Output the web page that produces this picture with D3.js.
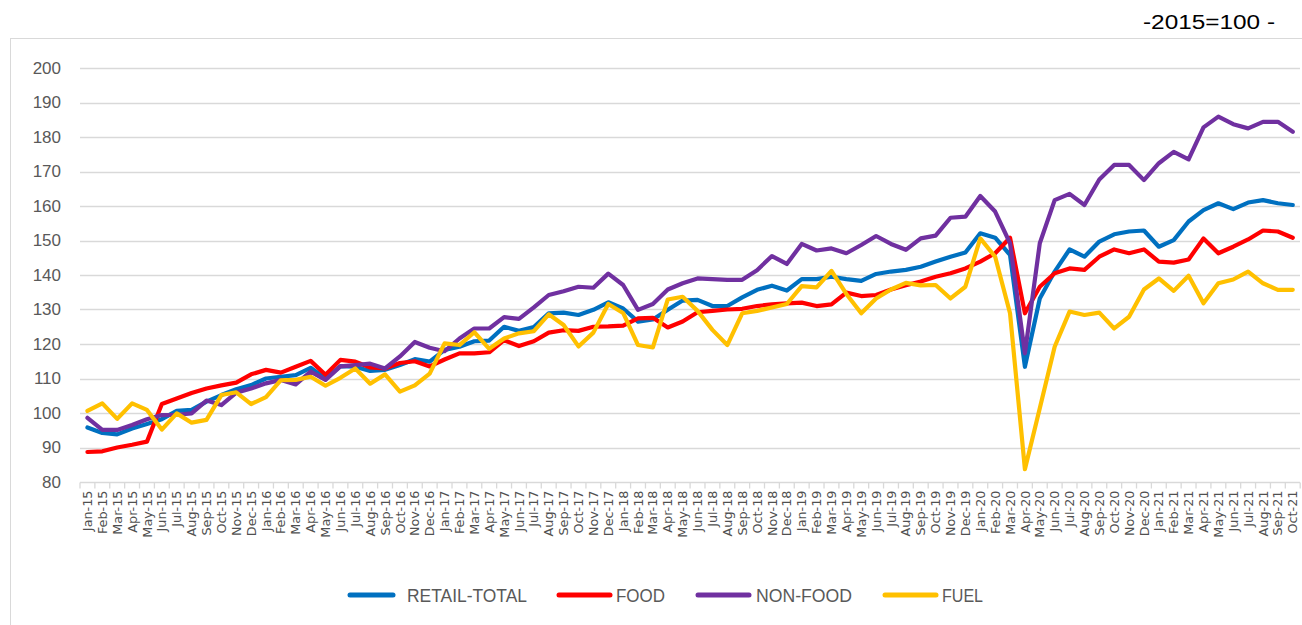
<!DOCTYPE html>
<html>
<head>
<meta charset="utf-8">
<script src="https://cdn.jsdelivr.net/npm/d3@7/dist/d3.min.js"></script>
<style>
  html, body { margin: 0; padding: 0; background: #ffffff; }
  svg { display: block; }
</style>
</head>
<body>
<svg id="chart" width="1302" height="625"></svg>
<script>
// ---------- DATA ----------
const monthNames = ["Jan","Feb","Mar","Apr","May","Jun","Jul","Aug","Sep","Oct","Nov","Dec"];
const years = ["15","16","17","18","19","20","21"];
const categories = [];
years.forEach(y => monthNames.forEach(m => categories.push(m + "-" + y)));
categories.splice(82); // Jan-15 .. Oct-21

const retailTotal = [
  95.8, 94.2, 93.8, 95.5, 96.8, 98.2, 100.6, 100.9, 103.3, 105.2,
  106.9, 108.1, 110.0, 110.5, 111.0, 113.1, 110.0, 113.6, 113.4, 112.2,
  112.5, 113.9, 115.6, 114.9, 118.3, 119.2, 120.8, 121.0, 125.0, 123.8,
  124.9, 128.9, 129.1, 128.4, 129.9, 132.1, 130.3, 126.5, 127.1, 129.9,
  132.6, 132.8, 131.0, 131.0, 133.5, 135.7, 136.9, 135.5, 138.8, 138.8,
  139.5, 138.8, 138.3, 140.3, 141.0, 141.5, 142.4, 143.9, 145.3, 146.5,
  152.1, 150.8, 145.8, 113.4, 133.2, 141.0, 147.4, 145.3, 149.7, 151.8,
  152.6, 152.9, 148.2, 150.1, 155.5, 158.8, 160.8, 159.1, 161.0, 161.7,
  160.8, 160.3
];
const food = [
  88.7, 88.9, 90.0, 90.8, 91.7, 102.6, 104.2, 105.8, 107.1, 108.0,
  108.8, 111.2, 112.5, 111.7, 113.4, 115.1, 111.1, 115.4, 114.9, 113.2,
  112.9, 114.5, 115.0, 113.5, 115.5, 117.3, 117.3, 117.6, 121.1, 119.4,
  120.8, 123.3, 124.0, 123.8, 125.0, 125.1, 125.3, 127.4, 127.6, 124.8,
  126.5, 129.2, 129.6, 130.0, 130.2, 131.0, 131.5, 131.8, 132.0, 131.0,
  131.5, 134.9, 133.9, 134.2, 135.8, 137.0, 138.1, 139.5, 140.5, 141.9,
  143.9, 146.3, 150.8, 128.9, 136.6, 140.5, 141.9, 141.5, 145.3, 147.4,
  146.3, 147.4, 143.9, 143.6, 144.5, 150.6, 146.3, 148.2, 150.3, 152.9,
  152.6, 150.8
];
const nonFood = [
  98.6, 95.1, 95.1, 96.5, 98.2, 99.4, 99.5, 99.9, 103.6, 102.3,
  105.9, 107.1, 108.6, 109.6, 108.3, 112.0, 109.6, 113.5, 113.9, 114.3,
  112.9, 116.4, 120.6, 118.9, 117.9, 121.6, 124.5, 124.5, 127.8, 127.3,
  130.6, 134.2, 135.3, 136.6, 136.3, 140.4, 137.1, 129.9, 131.6, 135.8,
  137.6, 139.0, 138.8, 138.6, 138.6, 141.4, 145.5, 143.2, 149.0, 147.1,
  147.7, 146.3, 148.7, 151.3, 149.0, 147.3, 150.6, 151.4, 156.6, 156.9,
  162.9, 158.4, 149.2, 117.3, 149.2, 161.7, 163.5, 160.3, 167.7, 171.9,
  171.9, 167.5, 172.4, 175.7, 173.5, 182.8, 185.9, 183.7, 182.5, 184.4,
  184.4, 181.5
];
const fuel = [
  100.6, 102.8, 98.3, 102.8, 100.9, 95.2, 99.9, 97.2, 98.0, 105.2,
  106.0, 102.6, 104.6, 109.5, 109.6, 110.5, 107.9, 110.2, 112.9, 108.5,
  111.2, 106.2, 108.0, 111.4, 120.2, 119.7, 123.4, 118.6, 121.6, 123.1,
  123.7, 128.6, 125.5, 119.3, 123.3, 131.6, 129.0, 119.7, 119.0, 132.9,
  133.7, 129.6, 124.1, 119.7, 128.9, 129.6, 130.6, 131.6, 136.8, 136.4,
  141.2, 134.5, 128.9, 133.2, 135.8, 137.7, 137.0, 137.1, 133.2, 136.6,
  150.6, 145.3, 128.9, 83.7, 101.4, 119.2, 129.4, 128.4, 129.1, 124.5,
  127.9, 135.8, 139.0, 135.4, 139.8, 131.8, 137.6, 138.7, 141.0, 137.6,
  135.7, 135.7
];
const seriesNames = ["RETAIL-TOTAL", "FOOD", "NON-FOOD", "FUEL"];
const seriesColors = ["#0070C0", "#FF0000", "#7030A0", "#FFC000"];
const yTicks = [80, 90, 100, 110, 120, 130, 140, 150, 160, 170, 180, 190, 200];
const unitNote = "-2015=100 -";

// ---------- CHART ----------
const svg = d3.select("#chart");
const gridColor = "#d9d9d9";
const textColor = "#595959";
const narrow = "'Liberation Sans Narrow', 'Arial Narrow', 'Liberation Sans', Arial, sans-serif";

// outer chart frame
svg.append("rect")
  .attr("x", 10.5).attr("y", 38.5)
  .attr("width", 1320).attr("height", 620)
  .attr("fill", "none").attr("stroke", gridColor).attr("stroke-width", 1);

// unit note
svg.append("text")
  .attr("x", 1143).attr("y", 29)
  .attr("font-family", narrow).attr("font-size", 20)
  .attr("textLength", 132).attr("lengthAdjust", "spacingAndGlyphs")
  .attr("fill", "#000").text(unitNote);

const x = d3.scalePoint().domain(categories).range([80, 1300.2]).padding(0.5);
const y = d3.scaleLinear().domain([80, 200]).range([482, 68]);

// gridlines
svg.append("g").selectAll("line")
  .data(yTicks.filter(t => t !== 80))
  .join("line")
  .attr("x1", 80).attr("x2", 1300)
  .attr("y1", d => Math.round(y(d)) + 0.5).attr("y2", d => Math.round(y(d)) + 0.5)
  .attr("stroke", gridColor).attr("stroke-width", 1.3);

// y axis labels
const yAxis = d3.axisLeft(y).tickValues(yTicks).tickSize(0).tickPadding(0).tickFormat(d3.format("d"));
const gy = svg.append("g").attr("transform", "translate(61,0)").call(yAxis);
gy.select(".domain").remove();
gy.selectAll("text")
  .attr("font-family", narrow).attr("font-size", 17)
  .attr("fill", textColor);

// x axis
const step = x.step();
const gx = svg.append("g").attr("transform", "translate(0,482.5)");
gx.append("line").attr("x1", 80).attr("x2", 1300).attr("stroke", gridColor).attr("stroke-width", 1.3);
gx.selectAll("line.tick")
  .data(d3.range(categories.length + 1))
  .join("line").attr("class", "tick")
  .attr("x1", i => 80 + i * step).attr("x2", i => 80 + i * step)
  .attr("y1", 0).attr("y2", 6)
  .attr("stroke", gridColor).attr("stroke-width", 1.3);
gx.selectAll("text")
  .data(categories)
  .join("text")
  .attr("transform", d => `translate(${x(d) + 4.6},8) rotate(-90)`)
  .attr("text-anchor", "end")
  .attr("font-family", "'DejaVu Sans', Verdana, sans-serif")
  .attr("font-size", 12.8)
  .attr("fill", "#505050")
  .text(d => d);

// lines
const allSeries = [retailTotal, food, nonFood, fuel];
const line = d3.line().x((d, i) => x(categories[i])).y(d => y(d));
svg.append("g").selectAll("path")
  .data(allSeries)
  .join("path")
  .attr("d", d => line(d))
  .attr("fill", "none")
  .attr("stroke", (d, i) => seriesColors[i])
  .attr("stroke-width", 4.2)
  .attr("stroke-linejoin", "round")
  .attr("stroke-linecap", "round");

// legend
const legendItems = [
  { x1: 350, x2: 393, tx: 407, tw: 120 },
  { x1: 559, x2: 610, tx: 616, tw: 49 },
  { x1: 698, x2: 749, tx: 756, tw: 96 },
  { x1: 885, x2: 936, tx: 942, tw: 41 }
];
const lg = svg.append("g");
seriesNames.forEach((name, i) => {
  const it = legendItems[i];
  lg.append("line")
    .attr("x1", it.x1).attr("x2", it.x2).attr("y1", 595).attr("y2", 595)
    .attr("stroke", seriesColors[i]).attr("stroke-width", 5).attr("stroke-linecap", "round");
  lg.append("text")
    .attr("x", it.tx).attr("y", 602)
    .attr("font-family", narrow).attr("font-size", 18)
    .attr("textLength", it.tw).attr("lengthAdjust", "spacingAndGlyphs")
    .attr("fill", textColor).text(name);
});
</script>
</body>
</html>
